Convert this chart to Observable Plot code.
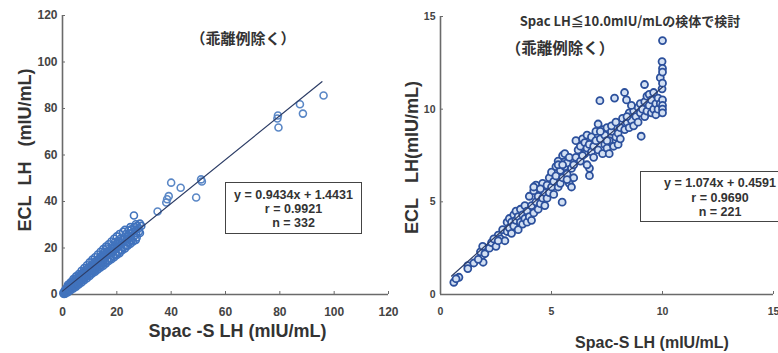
<!DOCTYPE html>
<html>
<head>
<meta charset="utf-8">
<script src="https://cdn.jsdelivr.net/npm/d3@7"></script>
<script src="https://cdn.jsdelivr.net/npm/@observablehq/plot@0.6"></script>
<style>
  html, body { margin: 0; padding: 0; background: #fff; }
  #wrap { position: relative; width: 778px; height: 353px; overflow: hidden; background: #fff; font-family: "Liberation Sans", Arial, sans-serif; }
  #wrap svg { position: absolute; top: 0; background: transparent !important; overflow: visible; }
  .ann { position: absolute; white-space: nowrap; color: #333; }
  .box { position: absolute; border: 1.5px solid #444; box-sizing: border-box; text-align: center; font-weight: bold; color: #333; }
</style>
</head>
<body>
<div id="wrap"></div>
<script>
// ---------- data ----------
const leftTicks = [0, 20, 40, 60, 80, 100, 120];
const rightTicks = [0, 5, 10, 15];

const leftCluster = [
  [0.5,1.2],[0.8,0.9],[1.0,2.0],[1.2,1.5],[1.5,2.8],[1.8,2.2],[2.0,3.5],[2.2,1.8],[2.5,3.0],[2.8,4.2],
  [3.0,2.6],[3.2,4.8],[3.5,3.4],[3.8,5.2],[4.0,3.9],[4.2,6.0],[4.5,4.4],[4.8,5.6],[5.0,4.0],[5.2,7.0],
  [5.5,6.1],[5.8,5.0],[6.0,7.4],[6.3,6.2],[6.5,8.3],[6.8,5.8],[7.0,7.9],[7.3,9.2],[7.5,6.8],[7.8,8.6],
  [8.0,10.0],[8.2,7.4],[8.5,9.3],[8.8,10.8],[9.0,8.0],[9.3,9.9],[9.5,11.4],[9.8,8.7],[10.0,10.6],[10.3,12.2],
  [10.5,9.3],[10.8,11.1],[11.0,13.0],[11.3,10.0],[11.5,12.0],[11.8,14.0],[12.0,10.5],[12.3,12.6],[12.5,14.6],[12.8,11.4],
  [13.0,13.2],[13.3,15.2],[13.5,12.0],[13.8,14.2],[14.0,16.4],[14.3,12.8],[14.5,15.0],[14.8,17.2],[15.0,13.5],[15.3,15.8],
  [15.5,18.4],[15.8,14.0],[16.0,16.5],[16.3,19.8],[16.5,15.0],[17.0,17.4],[17.3,19.0],[17.5,15.5],[18.0,18.0],[18.3,21.0],
  [18.5,16.5],[19.0,19.0],[19.3,22.5],[19.5,17.2],[20.0,20.5],[20.3,23.0],[20.5,18.4],[21.0,21.0],[21.3,24.0],[21.5,19.0],
  [22.0,22.3],[22.3,27.0],[22.5,20.5],[23.0,24.0],[23.3,26.0],[23.5,21.0],[24.0,25.0],[24.3,27.5],[24.5,22.5],[25.0,26.2],
  [25.3,28.0],[25.5,23.5],[26.0,27.0],[26.3,25.0],[26.5,29.0],[27.0,27.8],[27.3,24.5],[27.5,29.5],[28.0,28.5],[28.5,26.5],
  [29.0,29.5],[26.3,34.0],
  [0.3,0.5],[0.6,0.2],[1.3,0.8],[1.6,1.2],[2.4,2.0],[2.7,2.4],[3.3,3.1],[3.6,4.0],[4.3,5.0],[4.6,3.7],
  [5.3,5.5],[5.6,4.8],[6.1,5.6],[6.6,7.0],[7.1,6.3],[7.6,7.6],[8.1,8.6],[8.6,7.8],[9.1,9.2],[9.6,10.0],
  [10.1,9.8],[10.6,11.8],[11.1,11.3],[11.6,10.9],[12.1,13.2],[12.6,12.0],[13.1,14.4],[13.6,13.5],[14.1,14.8],[14.6,13.9],
  [15.1,16.6],[15.6,15.6],[16.1,17.8],[16.6,16.8],[17.1,18.3],[17.6,17.0],[18.1,19.8],[18.6,18.2],[19.1,20.6],[19.6,19.5],
  [20.1,22.0],[21.1,22.5],[22.1,23.5],[23.1,22.5],[24.1,23.8],[25.1,24.5],[27.1,26.5],[28.1,27.0],
  [1.0,0.3],[2.0,1.0],[3.0,1.8],[4.0,2.6],[5.0,3.4],[6.0,4.3],[7.0,5.2],[8.0,6.2],[9.0,7.0],[10.0,8.0],
  [11.0,9.0],[12.0,9.8],[13.0,10.8],[14.0,11.6],[15.0,12.4],[16.0,13.4],[17.0,14.4],[18.0,15.2],[19.0,16.0],[20.0,17.0],
  [21.0,17.8],[22.0,19.0],[23.0,19.8],[24.0,21.0],[25.0,21.8],[26.0,22.8],[27.0,23.5],
  [2.0,4.2],[3.0,5.2],[4.0,6.6],[5.0,7.8],[6.0,8.8],[7.0,10.2],[8.0,11.4],[9.0,12.6],[10.0,13.8],[11.0,15.0],
  [12.0,16.0],[13.0,17.2],[14.0,18.4],[15.0,19.6],[16.0,20.6],[17.0,21.6],[18.0,22.8],[19.0,24.0],[20.0,25.0],[21.0,26.0],
  [23.0,27.8],[25.0,29.0],[27.0,30.2],[28.5,30.5]
];
const leftOutliers = [
  [35.0,35.7],[38.2,39.6],[38.5,41.0],[39.1,42.3],[40.0,48.1],[43.5,45.9],[49.2,41.7],[51.3,48.6],[51.0,49.5],
  [79.1,75.7],[79.5,71.8],[79.3,77.0],[87.4,81.8],[88.5,77.8],[96.1,85.6]
];
const rightPoints = [
  [0.6,0.66],[0.83,0.93],[0.7,0.85],[1.23,1.56],[1.23,1.4],[1.5,1.7],[1.8,2.3],[1.92,1.74],[1.9,2.6],[2.0,2.2],[1.7,1.9],[2.2,2.5],
  [2.3,2.8],[2.5,2.6],[2.6,3.2],[2.7,3.0],[2.8,3.5],[2.9,2.9],[3.0,3.4],[3.0,3.9],[2.4,3.0],[2.6,2.9],
  [3.1,3.6],[3.1,4.1],[3.2,3.3],[3.2,3.9],[3.3,4.3],[3.3,3.7],[3.4,4.0],[3.4,4.5],[3.5,3.5],[3.5,4.2],
  [3.6,3.9],[3.6,4.6],[3.7,4.3],[3.7,3.8],[3.8,4.1],[3.8,4.8],[3.9,4.5],[3.9,3.9],[4.0,4.2],[4.0,5.3],
  [4.1,4.8],[4.1,4.0],[4.2,5.6],[4.2,4.4],[4.3,5.0],[4.3,5.9],[4.4,4.6],[4.4,5.3],[4.5,5.7],[4.5,4.9],
  [4.6,5.2],[4.6,6.0],[4.7,5.5],[4.7,4.8],[4.8,5.9],[4.8,5.2],[4.9,6.3],[4.9,5.5],[5.0,5.8],[5.0,6.6],[4.2,5.8],[4.5,5.7],
  [5.1,6.1],[5.1,5.4],[5.2,6.9],[5.2,6.4],[5.3,5.8],[5.3,7.2],[5.4,6.7],[5.4,6.0],[5.48,4.98],[5.5,7.5],
  [5.5,6.3],[5.6,6.9],[5.6,7.6],[5.7,6.5],[5.7,7.1],[5.8,6.0],[5.8,7.4],[5.9,6.8],[5.9,5.8],[6.0,7.0],[6.0,6.3],[5.3,7.0],[5.5,7.0],[5.7,6.2],
  [6.1,7.4],[6.1,8.3],[6.2,7.8],[6.3,8.0],[6.3,7.2],[6.4,8.4],[6.5,7.6],[6.5,8.2],[6.6,7.9],[6.6,8.6],
  [6.71,6.81],[6.71,6.41],[6.7,8.1],[6.8,7.7],[6.8,8.5],[6.9,8.0],[6.9,7.4],[7.0,8.3],[7.0,8.8],[6.6,7.0],[6.4,7.5],
  [7.1,7.8],[7.1,9.2],[7.18,10.46],[7.2,8.4],[7.3,7.6],[7.3,8.9],[7.4,8.1],[7.4,8.6],[7.5,7.9],[7.5,9.0],
  [7.6,8.3],[7.6,7.6],[7.7,8.8],[7.7,9.1],[7.8,8.0],[7.84,10.6],[7.9,8.5],[7.9,9.3],[8.0,8.7],[8.0,8.1],[7.2,8.8],[7.5,8.3],
  [8.1,9.0],[8.1,8.4],[8.2,9.5],[8.29,10.9],[8.3,8.9],[8.38,10.5],[8.4,9.3],[8.5,9.8],[8.5,9.0],[8.6,9.4],
  [8.7,9.9],[8.7,9.1],[8.8,9.6],[8.9,10.1],[8.9,9.3],[9.0,9.8],[9.04,8.54],[9.0,10.3],[8.6,10.2],[8.4,9.6],
  [9.1,10.0],[9.19,11.33],[9.2,9.6],[9.2,10.4],[9.3,10.7],[9.3,9.9],[9.4,10.2],[9.4,10.8],[9.5,9.8],[9.5,10.5],
  [9.6,10.0],[9.6,10.9],[9.7,10.3],[9.7,9.7],[9.8,10.6],[9.8,10.0],[9.9,11.7],[9.9,10.3],[9.98,12.57],[9.98,11.1],
  [10.0,13.7],[10.0,12.2],[10.0,12.0],[10.0,10.5],[10.0,10.2],[10.0,10.0],[10.0,9.8],[10.0,11.4]
];
const leftFit = { slope: 0.9434, intercept: 1.4431, xmin: 0, xmax: 95.5 };
const rightFit = { slope: 1.074, intercept: 0.4591, xmin: 0.5, xmax: 10 };

const leftTitle = "（乖離例除く）";
const rightNote = "Spac LH≦10.0mIU/mLの検体で検討";
const rightTitle = "（乖離例除く）";
const leftStats = ["y = 0.9434x + 1.4431", "r = 0.9921", "n = 332"];
const rightStats = ["y = 1.074x + 0.4591", "r = 0.9690", "n = 221"];
const leftXLabel = "Spac -S LH (mIU/mL)";
const leftYLabel = "ECL\u00a0\u00a0LH\u00a0\u00a0\u00a0(mIU/mL)";
const rightXLabel = "Spac-S LH (mIU/mL)";
const rightYLabel = "ECL\u00a0\u00a0\u00a0LH(mIU/mL)";

// ---------- helpers ----------
const fitLine = f => [f.xmin, f.xmax].map(x => ({x, y: f.slope * x + f.intercept}));
const axisColor = "#6a6a6a";
const font = "'Liberation Sans', Arial, sans-serif";

function makePlot(o) {
  return Plot.plot({
    width: o.width, height: 353,
    marginLeft: o.ml, marginRight: o.mr, marginTop: o.mt, marginBottom: o.mb,
    style: { fontFamily: font, fontWeight: "bold", background: "transparent", overflow: "visible" },
    x: { domain: o.domain, ticks: o.ticks },
    y: { domain: o.domain, ticks: o.ticks },
    marks: [
      Plot.ruleY([0], { stroke: axisColor, strokeWidth: 1.6 }),
      Plot.ruleX([0], { stroke: axisColor, strokeWidth: 1.6 }),
      Plot.axisX({ ticks: o.ticks, tickSize: -3, tickPadding: o.tpx, fontSize: o.tfs, fontWeight: "bold", fill: "#444", stroke: axisColor, label: null }),
      Plot.axisY({ ticks: o.ticks, tickSize: -3, tickPadding: o.tpy, fontSize: o.tfs, fontWeight: "bold", fill: "#444", stroke: axisColor, label: null }),
      ...o.dots,
      Plot.line(fitLine(o.fit), { x: "x", y: "y", stroke: "#2d3d66", strokeWidth: 1.2 }),
      Plot.text([o.xlabel], { frameAnchor: "bottom", text: d => d, textAnchor: "middle", lineAnchor: "middle", dx: o.xlDx, dy: o.xlDy, fontSize: o.xlFs, fontWeight: "bold", fill: "#333" }),
      Plot.text([o.ylabel], { frameAnchor: "left", text: d => d, textAnchor: "middle", lineAnchor: "middle", rotate: -90, dx: o.ylDx, dy: o.ylDy, fontSize: 18, fontWeight: "bold", fill: "#333", style: "letter-spacing:1.5px" })
    ]
  });
}

const left = makePlot({
  width: 390, ml: 62, mr: 2, mt: 15, mb: 59, domain: [0, 120], ticks: leftTicks,
  tpx: 16, tpy: 8, tfs: 12,
  dots: [
    Plot.dot(leftCluster, { x: d => d[0], y: d => d[1], r: 3.5, stroke: "#4173bd", strokeWidth: 1.6, fill: "none" }),
    Plot.dot(leftOutliers, { x: d => d[0], y: d => d[1], r: 3.5, stroke: "#5a87c6", strokeWidth: 1.6, fill: "none" })
  ],
  fit: leftFit,
  xlabel: leftXLabel, xlDx: 12, xlDy: 37, xlFs: 18,
  ylabel: leftYLabel, ylDx: -37, ylDy: -5
});
const right = makePlot({
  width: 388, ml: 50, mr: 5, mt: 16, mb: 59, domain: [0, 15], ticks: rightTicks,
  tpx: 16, tpy: 8, tfs: 10.5,
  dots: [
    Plot.dot(rightPoints, { x: d => d[0], y: d => d[1], r: 3.5, stroke: "#2c509c", strokeWidth: 1.8, fill: "#d3e0f3" })
  ],
  fit: rightFit,
  xlabel: rightXLabel, xlDx: 45, xlDy: 48, xlFs: 16,
  ylabel: rightYLabel, ylDx: -28, ylDy: 2
});

const wrap = document.getElementById("wrap");
left.style.left = "0px";
right.style.left = "390px";
wrap.appendChild(left);
wrap.appendChild(right);

function addAnn(text, cx, cy, size, weight, family) {
  const d = document.createElement("div");
  d.className = "ann";
  d.textContent = text;
  d.style.fontSize = size + "px";
  d.style.fontWeight = weight;
  d.style.fontFamily = family;
  d.style.left = cx + "px";
  d.style.top = cy + "px";
  d.style.transform = "translate(-50%, -50%)";
  wrap.appendChild(d);
}
function addBox(lines, x, y, w, h, pad, lh, size) {
  const b = document.createElement("div");
  b.className = "box";
  Object.assign(b.style, { left: x + "px", top: y + "px", width: w + "px", height: h + "px", paddingTop: pad + "px", lineHeight: lh + "px", fontSize: size + "px", fontFamily: font });
  lines.forEach(t => { const l = document.createElement("div"); l.textContent = t; b.appendChild(l); });
  wrap.appendChild(b);
}
const cjk = "'Noto Sans CJK JP', 'Noto Sans', sans-serif";
addAnn(leftTitle, 243, 37, 15, 700, cjk);
addAnn(rightNote, 630, 20, 13, 700, "'Noto Sans CJK JP', 'Liberation Sans', sans-serif");
addAnn(rightTitle, 560, 47, 15.5, 700, cjk);
addBox(leftStats, 225, 182, 137, 52, 5, 14, 12.5);
addBox(rightStats, 640, 171, 160, 51, 4, 14.5, 12.5);
</script>
</body>
</html>
